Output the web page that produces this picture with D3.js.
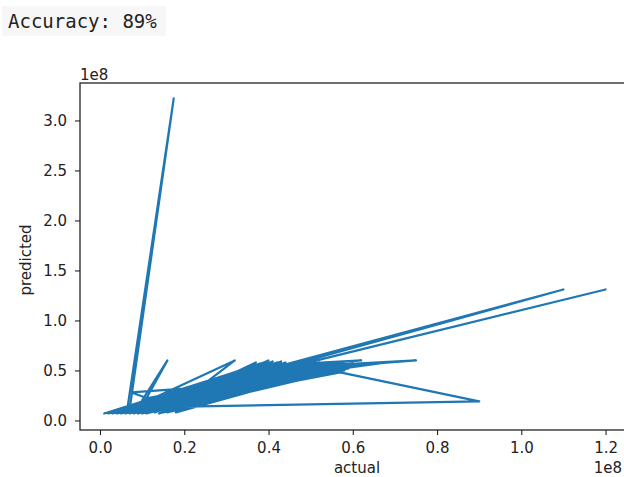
<!DOCTYPE html>
<html>
<head>
<meta charset="utf-8">
<script src="https://cdn.jsdelivr.net/npm/d3@7"></script>
<style>
  body { margin: 0; background: #fff; }
  svg { display: block; }
</style>
</head>
<body>
<svg id="chart" width="624" height="477"></svg>
<script>
// actual vs predicted (units of 1e8), in the order they were plotted
const actual = [
  0.03, 0.22, 0.10, 0.31, 0.05, 0.45, 0.15, 0.07, 0.175, 0.065,
  0.26, 0.13, 0.40, 0.08, 0.35, 0.18, 0.52, 0.04, 0.29, 0.11,
  0.16, 0.10, 0.38, 0.20, 0.48, 0.06, 0.33, 0.14, 0.42, 0.24,
  0.075, 0.12, 0.32, 0.19, 0.55, 0.09, 0.36, 0.17, 0.46, 0.27,
  0.57, 0.90, 0.10, 0.30, 1.10, 0.34, 0.21, 0.50, 0.02, 0.39,
  0.16, 0.44, 0.25, 0.58, 0.11, 0.37, 0.23, 0.30, 1.20, 0.36,
  0.08, 0.47, 0.19, 0.54, 0.13, 0.41, 0.28, 0.50, 0.75, 0.53,
  0.06, 0.43, 0.18, 0.33, 0.60, 0.68, 0.49, 0.15, 0.40, 0.26,
  0.56, 0.62, 0.45, 0.09, 0.35, 0.22, 0.51, 0.04, 0.38, 0.24,
  0.47, 0.12, 0.31, 0.59, 0.17, 0.43, 0.27, 0.14, 0.52, 0.20,
  0.42, 0.07, 0.34, 0.23, 0.55, 0.11, 0.39, 0.28, 0.46, 0.16,
  0.32, 0.48, 0.01, 0.37, 0.21, 0.44, 0.29, 0.53, 0.19, 0.41,
  0.25, 0.57, 0.10, 0.36, 0.26, 0.49, 0.13, 0.40, 0.30, 0.54,
  0.05, 0.42, 0.18, 0.33, 0.50, 0.22, 0.45, 0.15, 0.38, 0.27,
  0.58, 0.08, 0.35, 0.20, 0.46, 0.12, 0.31, 0.43, 0.24, 0.03,
  0.41, 0.06, 0.37, 0.14, 0.49, 0.09, 0.43, 0.20, 0.56, 0.11,
  0.34, 0.26, 0.52, 0.17, 0.39, 0.08, 0.45, 0.23, 0.58, 0.13,
  0.36, 0.29, 0.51, 0.02, 0.40, 0.19, 0.47, 0.25, 0.55, 0.15,
  0.42, 0.31, 0.57, 0.10, 0.38, 0.21, 0.48, 0.07, 0.44, 0.27,
  0.53, 0.16, 0.35, 0.24, 0.50, 0.12, 0.41, 0.30, 0.59, 0.18,
  0.46, 0.28, 0.54, 0.05, 0.39, 0.22, 0.49, 0.14, 0.37, 0.33,
  0.56, 0.19, 0.44, 0.26, 0.51, 0.09, 0.42, 0.32, 0.58, 0.17,
  0.45, 0.23, 0.52, 0.11, 0.40, 0.29, 0.55, 0.21, 0.47, 0.34,
  0.57, 0.15, 0.43, 0.25, 0.50, 0.07, 0.38, 0.27, 0.53, 0.20,
  0.46, 0.31, 0.60, 0.13, 0.41, 0.24, 0.48, 0.04, 0.36, 0.28
];
const predicted = [
  0.08, 0.25, 0.09, 0.42, 0.10, 0.50, 0.17, 0.10, 3.22, 0.12,
  0.30, 0.08, 0.52, 0.11, 0.38, 0.26, 0.48, 0.07, 0.36, 0.22,
  0.60, 0.20, 0.44, 0.12, 0.58, 0.09, 0.45, 0.10, 0.40, 0.33,
  0.28, 0.21, 0.60, 0.18, 0.53, 0.12, 0.52, 0.09, 0.45, 0.24,
  0.48, 0.19, 0.13, 0.40, 1.31, 0.42, 0.16, 0.56, 0.07, 0.58,
  0.14, 0.42, 0.27, 0.57, 0.09, 0.49, 0.20, 0.38, 1.31, 0.44,
  0.07, 0.52, 0.24, 0.50, 0.16, 0.56, 0.27, 0.52, 0.60, 0.55,
  0.08, 0.50, 0.11, 0.36, 0.55, 0.58, 0.47, 0.12, 0.46, 0.36,
  0.58, 0.60, 0.56, 0.10, 0.50, 0.19, 0.50, 0.09, 0.40, 0.22,
  0.58, 0.11, 0.33, 0.52, 0.21, 0.59, 0.32, 0.07, 0.54, 0.29,
  0.47, 0.08, 0.47, 0.26, 0.57, 0.12, 0.50, 0.37, 0.50, 0.08,
  0.30, 0.46, 0.07, 0.55, 0.22, 0.58, 0.29, 0.51, 0.14, 0.44,
  0.31, 0.56, 0.07, 0.40, 0.25, 0.55, 0.13, 0.60, 0.35, 0.58,
  0.07, 0.53, 0.15, 0.39, 0.49, 0.30, 0.47, 0.10, 0.53, 0.28,
  0.54, 0.09, 0.43, 0.20, 0.54, 0.08, 0.37, 0.45, 0.28, 0.07,
  0.50, 0.07, 0.45, 0.18, 0.52, 0.07, 0.55, 0.15, 0.52, 0.10,
  0.44, 0.22, 0.58, 0.17, 0.42, 0.08, 0.53, 0.30, 0.50, 0.09,
  0.48, 0.32, 0.55, 0.08, 0.55, 0.21, 0.49, 0.24, 0.49, 0.15,
  0.58, 0.35, 0.52, 0.11, 0.47, 0.27, 0.54, 0.09, 0.47, 0.34,
  0.57, 0.19, 0.41, 0.25, 0.58, 0.14, 0.59, 0.31, 0.56, 0.08,
  0.57, 0.30, 0.53, 0.08, 0.55, 0.23, 0.58, 0.12, 0.58, 0.33,
  0.55, 0.10, 0.52, 0.28, 0.47, 0.09, 0.42, 0.40, 0.59, 0.13,
  0.44, 0.18, 0.52, 0.07, 0.43, 0.39, 0.55, 0.13, 0.55, 0.35,
  0.50, 0.08, 0.57, 0.20, 0.54, 0.07, 0.57, 0.26, 0.49, 0.24,
  0.48, 0.39, 0.57, 0.11, 0.48, 0.30, 0.51, 0.08, 0.54, 0.33
];
const xTicks = [0.0, 0.2, 0.4, 0.6, 0.8, 1.0, 1.2];
const yTicks = [0.0, 0.5, 1.0, 1.5, 2.0, 2.5, 3.0];

const svg = d3.select("#chart");
const margin = {top: 83, left: 80};
const plotW = 554, plotH = 347;
const font = "'DejaVu Sans', sans-serif";

// notebook output line above the figure
svg.append("rect")
    .attr("x", 2).attr("y", 6)
    .attr("width", 164).attr("height", 30)
    .attr("fill", "#f7f7f7");
svg.append("text")
    .attr("x", 8).attr("y", 28)
    .style("font-family", "'DejaVu Sans Mono', monospace")
    .style("font-size", "19px")
    .attr("fill", "#222")
    .text("Accuracy: 89%");

const g = svg.append("g")
    .attr("transform", "translate(" + margin.left + "," + margin.top + ")");

const x = d3.scaleLinear()
    .domain([-0.0475, 1.2675])
    .range([0, plotW]);
const y = d3.scaleLinear()
    .domain([-0.0955, 3.3745])
    .range([plotH, 0]);

const points = actual.map((a, i) => ({a: a, p: predicted[i]}));

const line = d3.line()
    .x(d => x(d.a))
    .y(d => y(d.p));

g.append("path")
    .datum(points)
    .attr("d", line)
    .attr("fill", "none")
    .attr("stroke", "#1f77b4")
    .attr("stroke-width", 2.2)
    .attr("stroke-linejoin", "round")
    .attr("stroke-linecap", "square");

let xAxis = d3.axisBottom(x)
    .tickValues(xTicks)
    .tickFormat(d3.format(".1f"))
    .tickSize(5).tickPadding(7);
let yAxis = d3.axisLeft(y)
    .tickValues(yTicks)
    .tickFormat(d3.format(".1f"))
    .tickSize(5).tickPadding(8);

g.append("g")
    .attr("class", "x axis")
    .attr("transform", "translate(0," + plotH + ")")
    .call(xAxis);
g.append("g")
    .attr("class", "y axis")
    .call(yAxis);

g.selectAll(".axis .domain").remove();
g.selectAll(".axis text")
    .style("font-family", font)
    .style("font-size", "15px")
    .attr("fill", "#222");
g.selectAll(".axis line").attr("stroke", "#222").attr("stroke-width", 1.1);

// spines
g.append("rect")
    .attr("width", plotW).attr("height", plotH)
    .attr("fill", "none")
    .attr("stroke", "#222")
    .attr("stroke-width", 1.3);

// offset labels
g.append("text")
    .attr("x", 0).attr("y", -3)
    .style("font-family", font)
    .style("font-size", "15px")
    .attr("fill", "#222")
    .text("1e8");
g.append("text")
    .attr("x", plotW - 12).attr("y", plotH + 43)
    .style("text-anchor", "end")
    .style("font-family", font)
    .style("font-size", "15px")
    .attr("fill", "#222")
    .text("1e8");

// axis labels
g.append("text")
    .attr("x", plotW / 2).attr("y", plotH + 43)
    .style("text-anchor", "middle")
    .style("font-family", font)
    .style("font-size", "15px")
    .attr("fill", "#222")
    .text("actual");
g.append("text")
    .attr("transform", "rotate(-90)")
    .attr("x", -(260 - margin.top)).attr("y", -49)
    .style("text-anchor", "middle")
    .style("font-family", font)
    .style("font-size", "15px")
    .attr("fill", "#222")
    .text("predicted");
</script>
</body>
</html>
